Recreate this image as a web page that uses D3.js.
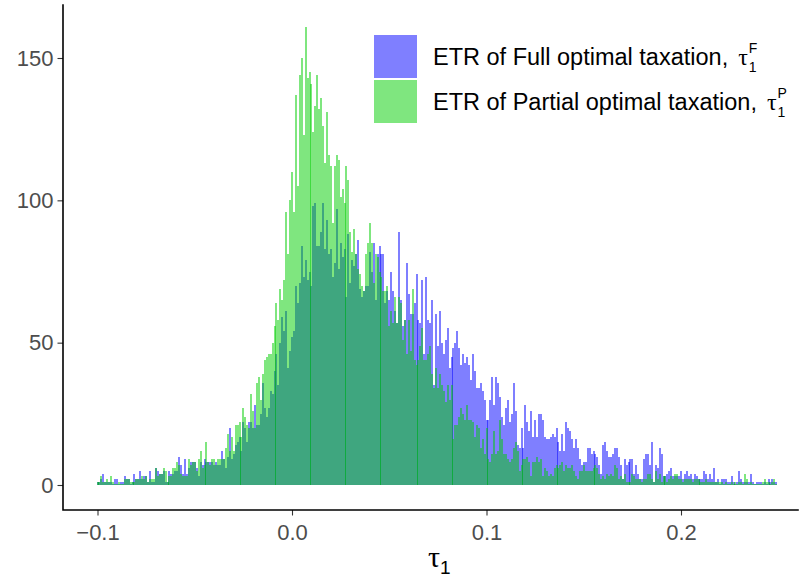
<!DOCTYPE html>
<html>
<head>
<meta charset="utf-8">
<script src="https://cdn.jsdelivr.net/npm/d3@7/dist/d3.min.js"></script>
<style>
  body { margin: 0; background: #fff; }
  svg { display: block; font-family: "Liberation Sans", Arial, sans-serif; }
</style>
</head>
<body>
<svg id="chart" width="805" height="579"></svg>
<script>
/* DATA */
// bins of width 0.001, first bin centred on -0.1
const binStart = -0.1005;
const binWidth = 0.001;

// counts per bin, ETR of Full optimal taxation (blue)
const countsFull = [
  1,1,2,4,1,1,1,1,0,2,
  2,0,1,1,3,2,2,0,1,4,
  2,2,5,2,3,3,1,5,1,1,
  6,5,4,4,5,1,1,5,4,4,
  5,5,10,7,4,9,4,6,8,8,
  8,6,3,8,7,9,8,8,8,8,
  7,8,7,7,12,9,6,10,20,9,
  11,14,15,17,12,22,20,15,22,22,
  20,28,21,21,25,36,27,24,27,33,
  32,40,46,35,50,59,54,61,41,47,
  52,54,70,64,71,84,73,79,72,75,
  70,98,99,84,84,89,99,83,93,81,
  83,73,78,97,76,85,80,83,66,88,
  71,79,77,81,86,69,66,68,70,70,
  82,75,85,65,81,84,81,81,64,68,
  65,75,68,61,57,89,65,56,58,78,
  67,60,60,64,74,58,57,72,46,73,
  58,57,65,35,60,49,61,50,46,51,
  55,41,45,48,50,54,48,42,46,43,
  45,42,37,46,40,34,34,36,33,30,
  23,23,30,38,28,38,36,31,24,21,
  27,30,22,25,36,26,14,13,20,13,
  28,22,19,26,17,23,17,25,25,23,
  17,16,16,17,18,17,20,15,12,18,
  12,22,20,19,16,13,16,13,9,7,
  8,8,13,13,11,12,11,10,7,4,
  14,15,12,10,10,11,13,13,10,7,
  2,9,7,8,9,9,4,7,4,2,
  2,9,11,11,7,15,1,7,6,13,
  11,3,3,4,5,6,3,3,3,3,
  5,2,4,5,3,4,2,4,3,2,
  2,2,5,4,2,4,2,6,1,2,
  0,2,2,2,1,1,3,1,0,1,
  5,2,1,1,1,1,4,1,0,1,
  1,1,0,1,0,2,1,2,1,1
];

// counts per bin, ETR of Partial optimal taxation (green)
const countsPartial = [
  1,1,3,1,1,2,1,3,1,0,
  0,1,0,0,2,2,2,1,1,1,
  2,2,2,3,2,3,1,2,2,2,
  6,3,4,4,6,5,1,3,3,6,
  6,8,7,4,3,3,3,9,7,8,
  8,5,9,12,6,7,15,8,7,9,
  9,7,9,9,9,9,13,18,12,17,
  12,21,21,22,17,27,24,21,20,32,
  26,20,36,38,30,39,44,45,46,46,
  50,56,64,58,69,65,72,96,81,100,
  110,96,137,105,144,150,123,161,143,145,
  141,124,133,144,132,136,126,113,131,116,
  112,92,112,116,114,101,104,99,112,107,
  89,82,90,81,76,74,70,68,81,85,
  92,85,71,81,80,75,73,68,68,70,
  56,61,57,66,57,66,64,51,58,46,
  58,47,69,44,42,44,49,55,44,44,
  46,49,39,34,41,34,39,35,33,29,
  35,30,35,16,21,21,24,27,25,23,
  28,23,23,22,17,21,20,13,16,11,
  20,9,8,11,19,11,12,23,16,11,
  11,9,8,9,13,15,12,5,7,9,
  9,10,8,3,8,8,10,8,9,3,
  6,5,3,4,3,6,7,6,7,8,
  5,7,6,6,7,5,3,2,5,5,
  7,5,5,5,5,6,7,6,4,2,
  3,2,4,3,4,3,7,6,2,3,
  2,4,1,1,1,4,3,2,2,2,
  1,2,2,4,4,2,1,5,2,4,
  1,3,3,1,2,3,2,4,4,2,
  2,1,2,2,2,2,1,2,2,2,
  1,1,1,2,1,1,1,1,1,1,
  1,1,0,1,0,0,1,0,1,0,
  1,1,0,4,2,0,1,0,0,0,
  0,0,1,2,1,1,0,1,2,0
];

const xTicks = [-0.1, 0, 0.1, 0.2];
const yTicks = [0, 50, 100, 150];
const seriesLabels = ["ETR of Full optimal taxation,", "ETR of Partial optimal taxation,"];
const seriesSup = ["F", "P"];
const seriesColors = ["#0000ff", "#00cd00"];

/* LAYOUT */
const panel = { left: 63, right: 798, top: 5, bottom: 510 };
const svg = d3.select("#chart");

const xScale = d3.scaleLinear().domain([-0.1, 0.2]).range([97.5, 681]);
const yScale = d3.scaleLinear().domain([0, 150]).range([485, 58]);

/* BARS */
// blue drawn first, green on top, each half transparent
[countsFull, countsPartial].forEach((counts, s) => {
  const y0 = Math.round(yScale(0));
  svg.append("g")
    .attr("shape-rendering", "crispEdges")
    .selectAll("rect")
    .data(counts)
    .join("rect")
    .attr("x", (d, i) => Math.round(xScale(binStart + i * binWidth)))
    .attr("width", (d, i) => Math.ceil(xScale(binStart + (i + 1) * binWidth) - xScale(binStart + i * binWidth)))
    .attr("y", d => Math.min(Math.round(yScale(d)), y0 - 1))
    .attr("height", d => Math.max(1, y0 - Math.round(yScale(d))))
    .attr("fill", seriesColors[s])
    .attr("fill-opacity", 0.5);
});

/* AXES */
const xAxis = d3.axisBottom(xScale)
  .tickValues(xTicks)
  .tickSize(5.5)
  .tickPadding(4)
  .tickFormat(d3.format(".1f"));

const yAxis = d3.axisLeft(yScale)
  .tickValues(yTicks)
  .tickSize(5.5)
  .tickPadding(4)
  .tickFormat(d3.format("d"));

const xAxisGroup = svg.append("g")
  .attr("transform", `translate(0,${panel.bottom})`)
  .call(xAxis);

const yAxisGroup = svg.append("g")
  .attr("transform", `translate(${panel.left},0)`)
  .call(yAxis);

[xAxisGroup, yAxisGroup].forEach(g => {
  g.select(".domain").remove();
  g.attr("font-family", null).attr("font-size", null);
  g.selectAll(".tick line").attr("stroke", "#333333").attr("stroke-width", 1.1);
  g.selectAll(".tick text").attr("fill", "#4d4d4d").style("font-size", "22px");
});
xAxisGroup.selectAll(".tick text").attr("dy", "0.95em");

// axis lines
svg.append("path")
  .attr("d", `M${panel.left},${panel.top}V${panel.bottom}H${panel.right}`)
  .attr("fill", "none")
  .attr("stroke", "black")
  .attr("stroke-width", 1.6)
  .attr("stroke-linecap", "square");

// axis title tau_1
const titleX = 434;
const tau = svg.append("text")
  .attr("x", titleX)
  .attr("y", 567)
  .attr("text-anchor", "middle")
  .style("font-family", "'Liberation Serif', 'DejaVu Serif', serif")
  .style("font-size", "30px")
  .text("τ");
svg.append("text")
  .attr("x", titleX + tau.node().getComputedTextLength() / 2)
  .attr("y", 574)
  .style("font-size", "19px")
  .text("1");

/* LEGEND */
const legend = svg.append("g").attr("transform", "translate(374,35)");
const keySize = 43;
seriesLabels.forEach((label, s) => {
  const row = legend.append("g").attr("transform", `translate(0,${s * (keySize + 2)})`);
  row.append("rect")
    .attr("width", keySize)
    .attr("height", keySize)
    .attr("fill", seriesColors[s])
    .attr("fill-opacity", 0.5);
  const txt = row.append("text")
    .attr("x", 59)
    .attr("y", keySize / 2 + 8)
    .style("font-size", "23.5px")
    .text(label);
  const tx = 59 + txt.node().getComputedTextLength() + 10;
  const t = row.append("text")
    .attr("x", tx)
    .attr("y", keySize / 2 + 8)
    .style("font-family", "'Liberation Serif', 'DejaVu Serif', serif")
    .style("font-size", "24px")
    .text("τ");
  const sx = tx + t.node().getComputedTextLength() + 1;
  row.append("text")
    .attr("x", sx)
    .attr("y", keySize / 2 + 15)
    .style("font-size", "14px")
    .text("1");
  row.append("text")
    .attr("x", sx)
    .attr("y", keySize / 2 - 4)
    .style("font-size", "14px")
    .text(seriesSup[s]);
});
</script>
</body>
</html>
